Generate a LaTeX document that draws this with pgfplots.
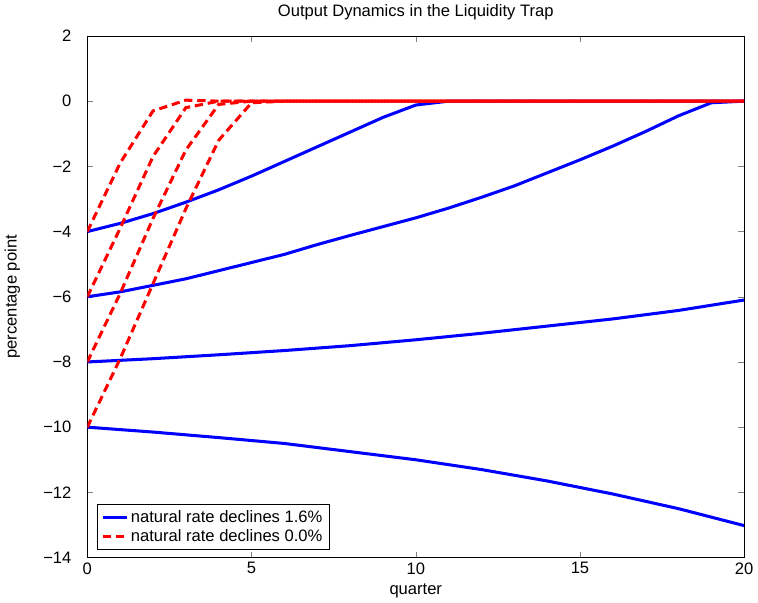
\documentclass[border=0pt]{standalone}
\usepackage{pgfplots}
\pgfplotsset{compat=1.18}
\usepackage{fontspec}
\setmainfont{Liberation Sans}
\begin{document}
\begin{tikzpicture}
\begin{axis}[
  scale only axis, width=476pt, height=378pt,
  xmin=0, xmax=20, ymin=-14, ymax=2,
  xtick={0,5,...,20}, ytick={-14,-12,...,2},
  yticklabels={−14,−12,−10,−8,−6,−4,−2,0,2},
  tick align=inside, tick pos=both,
  /pgf/number format/assume math mode=true,
  tick label style={font=\fontsize{12}{14}\selectfont},
  yticklabel style={xshift=-8pt},
  label style={font=\fontsize{12}{14}\selectfont},
  ylabel shift=10pt,
  title style={font=\fontsize{12}{14}\selectfont, yshift=2pt},
  title={Output Dynamics in the Liquidity Trap},
  xlabel={quarter}, ylabel={percentage point},
  legend pos=south west,
  legend style={font=\fontsize{12}{14}\selectfont, cells={anchor=west}, at={(0.015,0.015)}},
  legend cell align=left,
  every axis plot/.append style={line width=2.2pt},
]
\addplot[blue] coordinates {(0,-4)(1,-3.75)(2,-3.45)(3,-3.1)(4,-2.72)(5,-2.3)(6,-1.85)(7,-1.4)(8,-0.95)(9,-0.5)(10,-0.12)(11,0)(12,0)(13,0)(14,0)(15,0)(16,0)(17,0)(18,0)(19,0)(20,0)};
\addlegendentry{natural rate declines 1.6\%}
\addplot[red, dash pattern=on 6pt off 3.5pt] coordinates {(0,-4)(1,-1.9)(2,-0.3)(3,0.03)(4,0)(5,0)(20,0)};
\addlegendentry{natural rate declines 0.0\%}
\addplot[blue] coordinates {(0,-6)(1,-5.85)(2,-5.65)(3,-5.45)(4,-5.2)(5,-4.95)(6,-4.7)(7,-4.4)(8,-4.12)(9,-3.85)(10,-3.58)(11,-3.28)(12,-2.95)(13,-2.6)(14,-2.2)(15,-1.8)(16,-1.38)(17,-0.93)(18,-0.45)(19,-0.05)(20,0)};
\addplot[blue] coordinates {(0,-8)(2,-7.9)(4,-7.78)(6,-7.65)(8,-7.5)(10,-7.32)(12,-7.12)(14,-6.9)(16,-6.68)(18,-6.42)(20,-6.1)};
\addplot[blue] coordinates {(0,-10)(2,-10.15)(4,-10.32)(6,-10.5)(8,-10.75)(10,-11.0)(12,-11.3)(14,-11.65)(16,-12.05)(18,-12.5)(20,-13.02)};
\addplot[red, dash pattern=on 6pt off 3.5pt] coordinates {(0,-6)(1,-3.9)(2,-1.7)(3,-0.2)(4,0)(5,0)(20,0)};
\addplot[red, dash pattern=on 6pt off 3.5pt] coordinates {(0,-8)(1,-5.9)(2,-3.6)(3,-1.5)(4,-0.1)(5,0)(20,0)};
\addplot[red, dash pattern=on 6pt off 3.5pt] coordinates {(0,-10)(1,-7.9)(2,-5.6)(3,-3.3)(4,-1.2)(5,-0.05)(6,0)(20,0)};
\end{axis}
\end{tikzpicture}
\end{document}
